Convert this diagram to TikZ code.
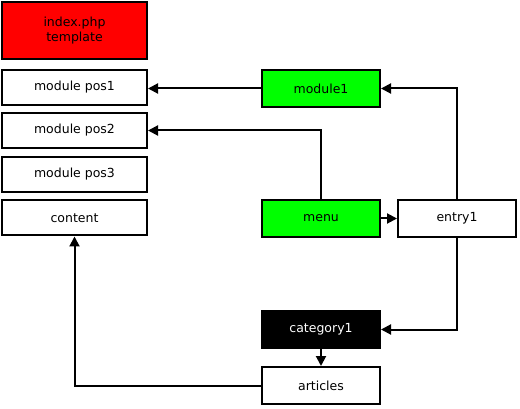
\documentclass[tikz,border=0pt]{standalone}
\usepackage{fontspec}
\setmainfont{DejaVu Sans}
\usetikzlibrary{arrows.meta}

\begin{document}
\begin{tikzpicture}[x=1pt,y=-1pt]
\tikzstyle{every node}=[rectangle,draw,line width=2pt,font=\fontsize{12.5}{15}\selectfont,align=center,inner sep=0pt]
\tikzstyle{slot}=[minimum width=145pt,minimum height=35pt,fill=white]
\tikzstyle{item}=[minimum width=118pt,minimum height=37pt,fill=white]
\tikzstyle{arr}=[line width=2pt,-{Triangle[length=10pt,width=10pt]}]
\useasboundingbox (0,0) rectangle (520,409);
% page layout
\node[minimum width=145pt,minimum height=57pt,fill=red] (tmpl) at (74.5,30.5) {index.php\\template};
\node[slot] (pos1) at (74.5,87.5) {module pos1};
\node[slot] (pos2) at (74.5,130.5) {module pos2};
\node[slot] (pos3) at (74.5,174.5) {module pos3};
\node[slot] (content) at (74.5,218) {content};
% items
\node[item,fill=green] (module1) at (321,88.5) {module1};
\node[item,fill=green] (menu) at (321,218.5) {menu};
\node[item] (entry1) at (457,218.5) {entry1};
\node[item,fill=black,text=white] (category1) at (321,329.5) {category1};
\node[item] (articles) at (321,385.5) {articles};
% links
\draw[arr] (module1.west) -- (module1.west -| pos1.east);
\draw[arr] (menu.north) |- (pos2.east);
\draw[arr] (menu) -- (entry1);
\draw[arr] (entry1.north) |- (module1.east);
\draw[arr] (entry1.south) |- (category1.east);
\draw[arr] (category1) -- (articles);
\draw[arr] (articles.west) -| (content.south);
\end{tikzpicture}
\end{document}
